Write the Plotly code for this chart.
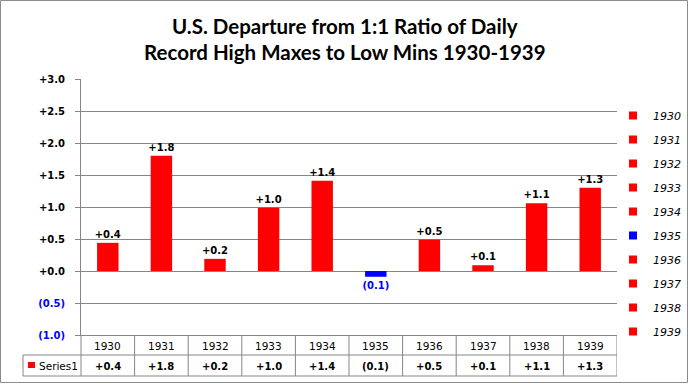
import plotly.graph_objects as go

years = ["1930", "1931", "1932", "1933", "1934", "1935", "1936", "1937", "1938", "1939"]
values = [0.44, 1.80, 0.19, 0.99, 1.41, -0.09, 0.49, 0.09, 1.06, 1.30]
tick_vals = [-1.0, -0.5, 0.0, 0.5, 1.0, 1.5, 2.0, 2.5, 3.0]
title_lines = ["U.S. Departure from 1:1 Ratio of Daily", "Record High Maxes to Low Mins 1930-1939"]
series_name = "Series1"

RED = "#FF0000"
BLUE = "#0000FF"
GRID = "#868686"
W, H = 689, 384
L, R, T, B = 81, 617, 79, 335


def fmt(v):
    return f"+{v:.1f}" if v >= 0 else f"({abs(v):.1f})"


def X(px):
    return (px - L) / (R - L)


def Y(py):
    return (B - py) / (B - T)


colors = [RED if v >= 0 else BLUE for v in values]
labels = [fmt(v) for v in values]
tick_text = [fmt(v) if v >= 0 else f"<span style='color:{BLUE}'>{fmt(v)}</span>" for v in tick_vals]

fig = go.Figure()
fig.add_trace(go.Bar(
    x=years, y=values, width=0.4,
    marker=dict(color=colors, line=dict(width=0)),
    text=labels, textposition="outside", cliponaxis=False, constraintext="none",
    textfont=dict(family="DejaVu Sans", size=10, color=["#000000" if v >= 0 else BLUE for v in values], weight="bold"),
    showlegend=False, hoverinfo="skip",
))

for yr, c in zip(years, colors):
    fig.add_trace(go.Scatter(
        x=[None], y=[None], mode="markers",
        marker=dict(symbol="square", size=8, color=c),
        name=f"<i>{yr}</i>", legendgroup=yr, showlegend=True,
    ))

shapes = []
line_style = dict(color=GRID, width=1)
# outer chart border
shapes.append(dict(type="rect", xref="paper", yref="paper", x0=X(0.5), x1=X(W - 1.5), y0=Y(0.5), y1=Y(H - 1.5),
                   line=dict(color="#8c8c8c", width=1)))
# table lines
shapes.append(dict(type="line", xref="paper", yref="paper", x0=X(23), x1=X(R), y0=Y(355), y1=Y(355), line=line_style))
shapes.append(dict(type="line", xref="paper", yref="paper", x0=X(23), x1=X(R), y0=Y(376), y1=Y(376), line=line_style))
shapes.append(dict(type="line", xref="paper", yref="paper", x0=X(23), x1=X(23), y0=Y(355), y1=Y(376), line=line_style))
shapes.append(dict(type="line", xref="paper", yref="paper", x0=0, x1=0, y0=0, y1=Y(376), line=line_style))
for i in range(len(years)):
    shapes.append(dict(type="line", xref="x", yref="paper", x0=i + 0.5, x1=i + 0.5, y0=0, y1=Y(376), line=line_style))
# Series1 key
shapes.append(dict(type="rect", xref="paper", yref="paper", x0=X(28), x1=X(35), y0=Y(362), y1=Y(368),
                   fillcolor=RED, line=dict(width=0)))

annotations = []
for k, (line, py) in enumerate(zip(title_lines, [26, 52])):
    annotations.append(dict(xref="paper", yref="paper", x=0.5 * (X(0) + X(W)), y=Y(py), yanchor="middle",
                            xanchor="center", text=f"<b>{line}</b>", showarrow=False,
                            font=dict(family="Lato", size=20.5, color="#000000")))
for i, (yr, lab) in enumerate(zip(years, labels)):
    annotations.append(dict(xref="x", yref="paper", x=i, y=Y(346), yanchor="middle", text=yr, showarrow=False,
                            font=dict(family="DejaVu Sans", size=10.5, color="#000000")))
    annotations.append(dict(xref="x", yref="paper", x=i, y=Y(366), yanchor="middle", text=f"<b>{lab}</b>",
                            showarrow=False, font=dict(family="DejaVu Sans", size=10, color="#000000")))
annotations.append(dict(xref="paper", yref="paper", x=X(37), y=Y(366), xanchor="left", yanchor="middle",
                        text=series_name, showarrow=False,
                        font=dict(family="DejaVu Sans", size=10.5, color="#000000")))

fig.update_layout(
    width=W, height=H,
    margin=dict(l=L, r=W - R, t=T, b=H - B, pad=0, autoexpand=False),
    paper_bgcolor="white", plot_bgcolor="white",
    barmode="overlay",
    showlegend=True,
    legend=dict(x=X(613), y=Y(101), xanchor="left", yanchor="top", tracegroupgap=5,
                font=dict(family="DejaVu Sans", size=11, color="#000000"), bgcolor="rgba(0,0,0,0)", itemwidth=30),
    xaxis=dict(type="category", showticklabels=False, ticks="", showgrid=False, showline=True,
               linecolor=GRID, linewidth=1, range=[-0.5, 9.5], fixedrange=True),
    yaxis=dict(range=[-1, 3], tickvals=tick_vals, ticktext=tick_text, showgrid=True, gridcolor=GRID, gridwidth=1,
               zeroline=False, showline=True, linecolor=GRID, linewidth=1, ticks="outside", ticklen=5,
               tickcolor=GRID, ticklabelstandoff=8,
               tickfont=dict(family="DejaVu Sans", size=10, color="#000000", weight="bold"), fixedrange=True),
    shapes=shapes, annotations=annotations,
)

fig.write_html("out.html", config={"displayModeBar": False},
               post_script="document.body.style.margin='0';document.body.style.overflow='hidden';")
